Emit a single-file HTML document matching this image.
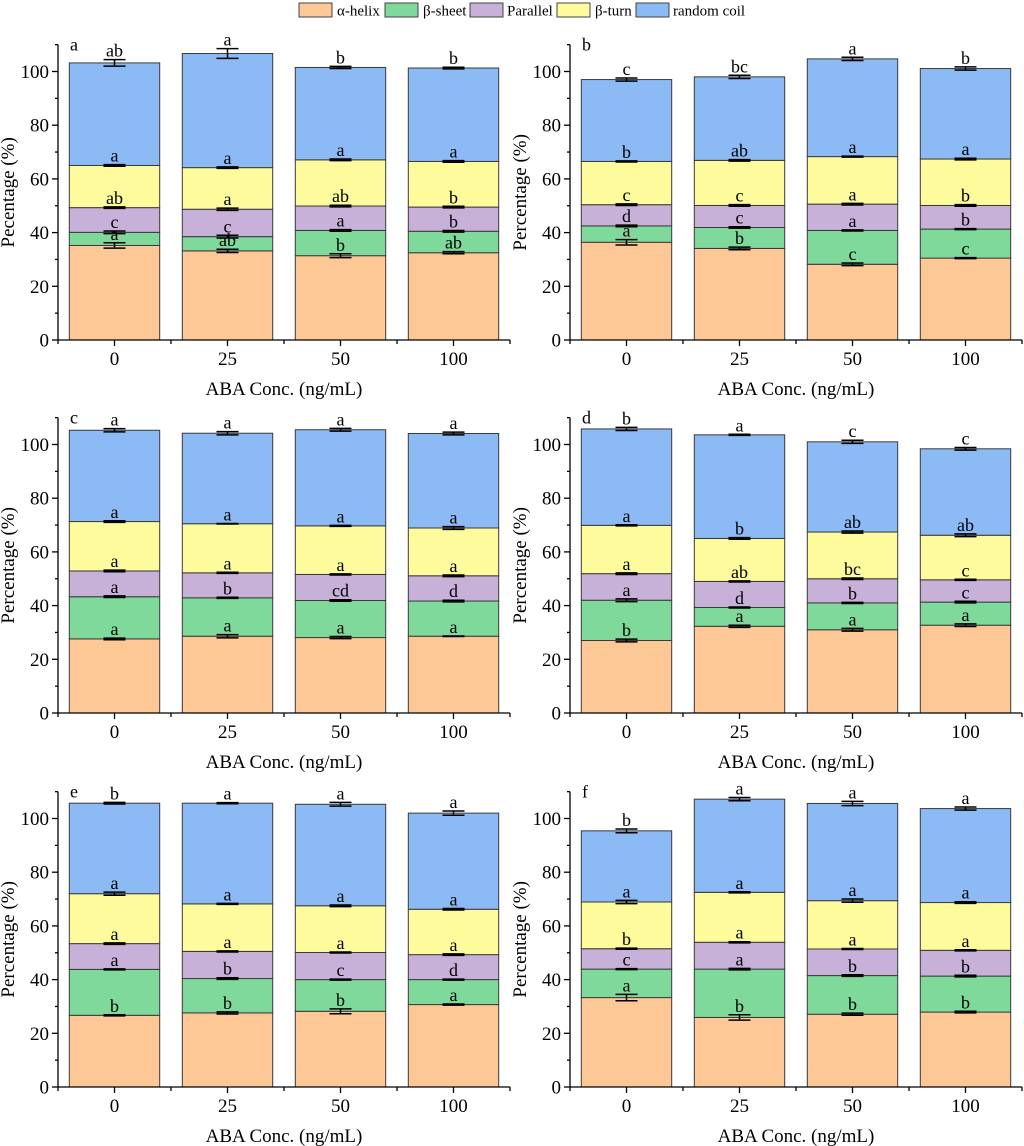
<!DOCTYPE html>
<html><head><meta charset="utf-8"><style>
html,body{margin:0;padding:0;background:#fff}
svg{display:block}
svg text{font-family:"Liberation Serif","Times New Roman",serif}
</style></head><body>
<svg id="fig" width="1024" height="1146" viewBox="0 0 1024 1146" xmlns="http://www.w3.org/2000/svg" font-family="Liberation Serif, serif">
<g font-size="15">
 <g><rect x="299" y="3" width="33" height="14" fill="#fec896" stroke="#444"/><text x="337" y="15.5">α-helix</text></g>
 <g><rect x="385" y="3" width="33" height="14" fill="#7fd99a" stroke="#444"/><text x="423" y="15.5">β-sheet</text></g>
 <g><rect x="470" y="3" width="33" height="14" fill="#c8b1d9" stroke="#444"/><text x="507" y="15.5">Parallel</text></g>
 <g><rect x="557" y="3" width="33" height="14" fill="#fdfb9b" stroke="#444"/><text x="595" y="15.5">β-turn</text></g>
 <g><rect x="636" y="3" width="33" height="14" fill="#8bbaf5" stroke="#444"/><text x="673" y="15.5">random coil</text></g>
</g>
</svg>
<script>
const categories = ["0","25","50","100"];
const yTicks = [0,20,40,60,80,100];
const seriesNames = ["alpha-helix","beta-sheet","parallel","beta-turn","random-coil"];
const seriesColors = ["#fec896","#7fd99a","#c8b1d9","#fdfb9b","#8bbaf5"];

const aHelix=[35.2,33.2,31.4,32.5], aSheet=[4.9,5.3,9.4,8.0], aPar=[9.2,10.2,9.1,9.0], aTurn=[15.7,15.5,17.2,17.0], aCoil=[38.2,42.5,34.4,34.8];
const bHelix=[36.4,34.1,28.2,30.5], bSheet=[6.1,7.8,12.6,10.8], bPar=[7.9,8.2,9.8,8.8], bTurn=[16.1,16.8,17.7,17.3], bCoil=[30.5,31.1,36.4,33.7];
const cHelix=[27.6,28.6,28.1,28.6], cSheet=[15.7,14.3,13.8,13.1], cPar=[9.6,9.3,9.7,9.4], cTurn=[18.4,18.3,18.1,17.8], cCoil=[34.0,33.7,35.8,35.2];
const dHelix=[27.0,32.3,31.0,32.7], dSheet=[15.0,7.0,10.0,8.6], dPar=[9.9,9.7,9.0,8.3], dTurn=[18.0,16.0,17.4,16.6], dCoil=[35.9,38.6,33.6,32.2];
const eHelix=[26.7,27.6,28.2,30.7], eSheet=[17.1,12.8,11.8,9.3], ePar=[9.6,10.1,10.1,9.3], eTurn=[18.6,17.7,17.4,16.9], eCoil=[33.7,37.5,37.8,35.8];
const fHelix=[33.3,25.9,27.1,27.9], fSheet=[10.6,18.0,14.4,13.4], fPar=[7.6,10.0,9.9,9.6], fTurn=[17.4,18.6,18.0,17.8], fCoil=[26.5,34.7,36.2,35.0];

const aErr=[[1,0.6,0.7,0.4],[0.5,0.5,0.3,0.3],[0.3,0.4,0.3,0.3],[0.3,0.3,0.3,0.3],[1.2,1.8,0.4,0.3]];
const bErr=[[1,0.5,0.5,0.2],[0.3,0.3,0.2,0.2],[0.3,0.3,0.3,0.3],[0.2,0.3,0.2,0.3],[0.6,0.6,0.6,0.6]];
const cErr=[[0.3,0.6,0.4,0.1],[0.3,0.2,0.3,0.3],[0.3,0.2,0.2,0.3],[0.3,0.1,0.2,0.5],[0.6,0.6,0.5,0.5]];
const dErr=[[0.5,0.4,0.5,0.5],[0.5,0.2,0.2,0.3],[0.3,0.2,0.3,0.2],[0.2,0.3,0.4,0.5],[0.6,0.2,0.6,0.5]];
const eErr=[[0.2,0.4,0.9,0.2],[0.2,0.3,0.2,0.2],[0.3,0.2,0.2,0.3],[0.6,0.2,0.3,0.3],[0.3,0.2,0.7,0.8]];
const fErr=[[1.2,1.0,0.4,0.3],[0.2,0.3,0.3,0.3],[0.2,0.2,0.2,0.2],[0.6,0.2,0.6,0.3],[0.7,0.6,0.8,0.6]];

const aLet=[["a","ab","b","ab"],["c","c","a","b"],["ab","a","ab","b"],["a","a","a","a"],["ab","a","b","b"]];
const bLet=[["a","b","c","c"],["d","c","a","b"],["c","c","a","b"],["b","ab","a","a"],["c","bc","a","b"]];
const cLet=[["a","a","a","a"],["a","b","cd","d"],["a","a","a","a"],["a","a","a","a"],["a","a","a","a"]];
const dLet=[["b","a","a","a"],["a","d","b","c"],["a","ab","bc","c"],["a","b","ab","ab"],["b","a","c","c"]];
const eLet=[["b","b","b","a"],["a","b","c","d"],["a","a","a","a"],["a","a","a","a"],["b","a","a","a"]];
const fLet=[["a","b","b","b"],["c","a","b","b"],["b","a","a","a"],["a","a","a","a"],["b","a","a","a"]];

const panels=[
 {id:"a",x0:58,y0:340,yLab:"Pecentage (%)",series:[aHelix,aSheet,aPar,aTurn,aCoil],err:aErr,lets:aLet},
 {id:"b",x0:570,y0:340,yLab:"Percentage (%)",series:[bHelix,bSheet,bPar,bTurn,bCoil],err:bErr,lets:bLet},
 {id:"c",x0:58,y0:713,yLab:"Percentage (%)",series:[cHelix,cSheet,cPar,cTurn,cCoil],err:cErr,lets:cLet},
 {id:"d",x0:570,y0:713,yLab:"Percentage (%)",series:[dHelix,dSheet,dPar,dTurn,dCoil],err:dErr,lets:dLet},
 {id:"e",x0:58,y0:1087,yLab:"Percentage (%)",series:[eHelix,eSheet,ePar,eTurn,eCoil],err:eErr,lets:eLet},
 {id:"f",x0:570,y0:1087,yLab:"Percentage (%)",series:[fHelix,fSheet,fPar,fTurn,fCoil],err:fErr,lets:fLet}
];
const NS="http://www.w3.org/2000/svg";
const svg=document.getElementById('fig');
function mk(tag,attrs,parent,txt){const e=document.createElementNS(NS,tag);for(const k in attrs)e.setAttribute(k,attrs[k]);if(txt!==undefined)e.textContent=txt;parent.appendChild(e);return e;}
const SC=2.685, UNIT=113, YMAX=110;
panels.forEach(p=>{
 const g=mk('g',{},svg);
 
 
 const yS=v=>p.y0-v*SC;
 const xS=i=>p.x0+(i+0.5)*UNIT;
 const bw=UNIT*0.8;
 for(let i=0;i<categories.length;i++){
  let base=0;
  for(let s=0;s<p.series.length;s++){
   const v=p.series[s][i];
   const r=mk('rect',{x:xS(i)-bw/2,y:yS(base+v),width:bw,height:v*SC,fill:seriesColors[s],stroke:'#3a3a3a','stroke-width':1},g);
   
   
   base+=v;
  }
 }
 for(let i=0;i<categories.length;i++){
  let base=0;
  for(let s=0;s<p.series.length;s++){
   base+=p.series[s][i];
   const e=p.err[s][i], cx=xS(i);
   const eg=mk('g',{stroke:'#000','stroke-width':1.5},g);
   
   
   mk('line',{x1:cx,x2:cx,y1:yS(base-e),y2:yS(base+e)},eg);
   mk('line',{x1:cx-11,x2:cx+11,y1:yS(base-e),y2:yS(base-e)},eg);
   mk('line',{x1:cx-11,x2:cx+11,y1:yS(base+e),y2:yS(base+e)},eg);
   const t=mk('text',{x:cx,y:yS(base+e)-3,'text-anchor':'middle','font-size':18},g,p.lets[s][i]);
   
   
  }
 }
 const ax=mk('g',{stroke:'#000','stroke-width':1.3},g);
 
 
 mk('line',{x1:p.x0,x2:p.x0,y1:p.y0,y2:yS(YMAX)},ax);
 mk('line',{x1:p.x0,x2:p.x0+4*UNIT,y1:p.y0,y2:p.y0},ax);
 for(let v=0;v<=YMAX;v+=10){mk('line',{x1:p.x0,x2:p.x0-(v%20===0?6:3),y1:yS(v),y2:yS(v)},ax);}
 for(let k=0;k<=4;k++){mk('line',{x1:p.x0+k*UNIT,x2:p.x0+k*UNIT,y1:p.y0,y2:p.y0+4},ax);}
 for(let i=0;i<categories.length;i++){mk('line',{x1:xS(i),x2:xS(i),y1:p.y0,y2:p.y0+6},ax);}
 yTicks.forEach(v=>{
  const t=mk('text',{x:p.x0-9,y:yS(v)+6.5,'text-anchor':'end','font-size':19},g,String(v));
  
  
 });
 categories.forEach((c,i)=>{
  const t=mk('text',{x:xS(i),y:p.y0+25,'text-anchor':'middle','font-size':19},g,c);
  
  
 });
 const xt=mk('text',{x:p.x0+2*UNIT,y:p.y0+55,'text-anchor':'middle','font-size':19},g,'ABA Conc. (ng/mL)');
 
 
 const ly=yS(55), lx=p.x0-44;
 const yt=mk('text',{x:lx,y:ly,'text-anchor':'middle','font-size':19,transform:'rotate(-90 '+lx+' '+ly+')'},g,p.yLab);
 
 
 const pl=mk('text',{x:p.x0+12,y:yS(YMAX)+6,'font-size':18},g,p.id);
 
 
});
</script>
</body></html>
